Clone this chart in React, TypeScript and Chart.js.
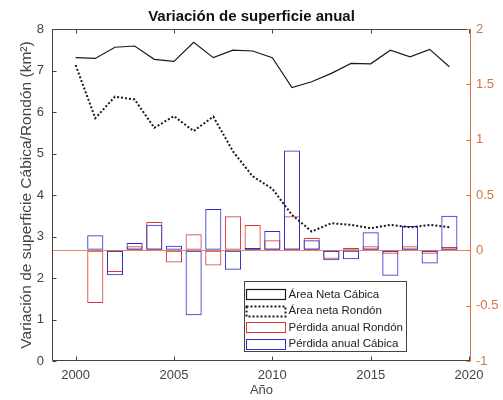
import React, { useEffect, useRef } from 'react';
import { Chart, registerables } from 'chart.js';

Chart.register(...registerables);

// ---- Data ----
const lineYears = [2000, 2001, 2002, 2003, 2004, 2005, 2006, 2007, 2008, 2009, 2010, 2011, 2012, 2013, 2014, 2015, 2016, 2017, 2018, 2019];
const areaNetaCabica = [7.31, 7.29, 7.56, 7.59, 7.27, 7.22, 7.68, 7.31, 7.49, 7.47, 7.31, 6.59, 6.73, 6.93, 7.17, 7.16, 7.49, 7.33, 7.51, 7.09];
const areaNetaRondon = [7.13, 5.85, 6.37, 6.30, 5.62, 5.90, 5.54, 5.89, 5.05, 4.45, 4.15, 3.52, 3.12, 3.32, 3.28, 3.20, 3.28, 3.22, 3.28, 3.22];

const barYears = [2001, 2002, 2003, 2004, 2005, 2006, 2007, 2008, 2009, 2010, 2011, 2012, 2013, 2014, 2015, 2016, 2017, 2018, 2019];
const perdidaRondon = [-0.476, -0.196, 0.036, 0.256, -0.111, 0.145, -0.136, 0.307, 0.229, 0.09, 0.307, 0.111, -0.075, 0.02, 0.036, -0.03, 0.036, -0.03, 0.03];
const perdidaCabica = [0.136, -0.226, 0.066, 0.232, 0.042, -0.587, 0.373, -0.175, 0.02, 0.175, 0.903, 0.09, -0.09, -0.081, 0.163, -0.229, 0.22, -0.12, 0.313];

const xTicks = [2000, 2005, 2010, 2015, 2020];
const yTicks = [0, 1, 2, 3, 4, 5, 6, 7, 8];
const y2Ticks = [-1, -0.5, 0, 0.5, 1, 1.5, 2];

const titleText = 'Variación de superficie anual';
const xTitle = 'Año';
const yTitle = 'Variación de superficie Cábica/Rondón (km²)';
const labels = ['Área Neta Cábica', 'Área neta Rondón', 'Pérdida anual Rondón', 'Pérdida anual Cábica'];

// ---- Styles ----
const FONT = "'Liberation Sans', Arial, Helvetica, sans-serif";
const GRAY = '#444444';
const ORANGE = '#D4743F';
const ZERO = '#DC8A5C';
const RED = '#D83A3A';
const BLUE = '#2E2EC8';
const BLACK = '#1a1a1a';

const framePlugin = {
  id: 'frameAndLegend',
  afterDraw(chart: any) {
    const { ctx, chartArea, scales } = chart;
    const { left, right, top, bottom } = chartArea;
    const L = Math.round(left) + 0.5;
    const R = Math.round(right) - 0.5;
    const T = Math.round(top) + 0.5;
    const B = Math.round(bottom) - 0.5;
    ctx.save();
    ctx.lineWidth = 1;
    ctx.setLineDash([]);
    ctx.strokeStyle = GRAY;
    ctx.beginPath();
    ctx.moveTo(R, T);
    ctx.lineTo(L, T);
    ctx.lineTo(L, B);
    ctx.lineTo(R, B);
    ctx.stroke();
    const tl = 4;
    ctx.beginPath();
    for (const t of scales.x.ticks) {
      const px = Math.round(scales.x.getPixelForValue(t.value)) + 0.5;
      ctx.moveTo(px, B);
      ctx.lineTo(px, B - tl);
      ctx.moveTo(px, T);
      ctx.lineTo(px, T + tl);
    }
    for (const t of scales.y.ticks) {
      const py = Math.round(scales.y.getPixelForValue(t.value)) + 0.5;
      ctx.moveTo(L, py);
      ctx.lineTo(L + tl, py);
    }
    ctx.stroke();
    ctx.strokeStyle = ORANGE;
    ctx.beginPath();
    ctx.moveTo(R, T - 0.5);
    ctx.lineTo(R, B + 0.5);
    for (const t of scales.y2.ticks) {
      const py = Math.round(scales.y2.getPixelForValue(t.value)) + 0.5;
      ctx.moveTo(R, py);
      ctx.lineTo(R - tl, py);
    }
    ctx.stroke();

    // legend
    const bx = 244.5, by = 281.5, bw = 162, bh = 70;
    ctx.fillStyle = '#ffffff';
    ctx.fillRect(bx, by, bw, bh);
    ctx.strokeStyle = '#444';
    ctx.lineWidth = 1;
    ctx.strokeRect(bx, by, bw, bh);
    const rowY = [294, 310.5, 327, 343.5];
    ctx.font = `11.5px ${FONT}`;
    ctx.textBaseline = 'middle';
    ctx.textAlign = 'left';
    chart.data.datasets.forEach((ds: any, i: number) => {
      const cy = rowY[i];
      ctx.save();
      ctx.strokeStyle = ds.borderColor;
      ctx.lineWidth = ds.type === 'line' ? ds.borderWidth : 1;
      ctx.setLineDash(ds.borderDash || []);
      ctx.strokeRect(246.5, Math.round(cy - 5) + 0.5, 39, 10);
      ctx.restore();
      ctx.fillStyle = '#222';
      ctx.fillText(ds.label, 288.5, cy + 0.5);
    });
    ctx.restore();
  },
};

export default function App() {
  const ref = useRef<HTMLCanvasElement | null>(null);

  useEffect(() => {
    if (!ref.current) return;
    const chart = new Chart(ref.current, {
      type: 'bar',
      data: {
        datasets: [
          {
            type: 'line',
            label: labels[0],
            data: lineYears.map((x, i) => ({ x, y: areaNetaCabica[i] })),
            yAxisID: 'y',
            borderColor: BLACK,
            borderWidth: 1.2,
            pointRadius: 0,
            tension: 0,
            fill: false,
            order: 0,
          } as any,
          {
            type: 'line',
            label: labels[1],
            data: lineYears.map((x, i) => ({ x, y: areaNetaRondon[i] })),
            yAxisID: 'y',
            borderColor: BLACK,
            borderWidth: 2,
            borderDash: [2, 2],
            pointRadius: 0,
            tension: 0,
            fill: false,
            order: 1,
          } as any,
          {
            type: 'bar',
            label: labels[2],
            data: barYears.map((x, i) => ({ x, y: perdidaRondon[i] })),
            yAxisID: 'y2',
            backgroundColor: 'rgba(0,0,0,0)',
            borderColor: RED,
            borderWidth: 1,
            borderSkipped: false,
            grouped: false,
            barPercentage: 0.82,
            categoryPercentage: 1,
            order: 3,
          } as any,
          {
            type: 'bar',
            label: labels[3],
            data: barYears.map((x, i) => ({ x, y: perdidaCabica[i] })),
            yAxisID: 'y2',
            backgroundColor: 'rgba(0,0,0,0)',
            borderColor: BLUE,
            borderWidth: 1,
            borderSkipped: false,
            grouped: false,
            barPercentage: 0.82,
            categoryPercentage: 1,
            order: 2,
          } as any,
        ],
      },
      options: {
        responsive: false,
        animation: false,
        devicePixelRatio: 1,
        events: [],
        layout: { padding: 0 },
        plugins: {
          legend: { display: false },
          tooltip: { enabled: false },
          title: {
            display: true,
            text: titleText,
            color: '#111',
            font: { family: FONT, size: 15, weight: 'bold' },
            padding: { top: 7.5, bottom: 3.5 },
          },
        },
        scales: {
          x: {
            type: 'linear',
            position: 'bottom',
            min: 1998.8,
            max: 2020.1,
            offset: false,
            afterBuildTicks: (s: any) => {
              s.ticks = xTicks.map((v) => ({ value: v }));
            },
            afterFit: (s: any) => {
              s.height = 39;
            },
            grid: { display: false, drawTicks: false },
            border: { display: false },
            ticks: {
              color: GRAY,
              font: { family: FONT, size: 13 },
              padding: 6.5,
              maxRotation: 0,
              callback: (v: any) => String(v),
            },
            title: {
              display: true,
              text: xTitle,
              color: GRAY,
              font: { family: FONT, size: 13 },
              padding: { top: 0, bottom: 2 },
            },
          },
          y: {
            type: 'linear',
            position: 'left',
            min: 0,
            max: 8,
            afterBuildTicks: (s: any) => {
              s.ticks = yTicks.map((v) => ({ value: v }));
            },
            afterFit: (s: any) => {
              s.width = 52;
            },
            grid: { display: false, drawTicks: false },
            border: { display: false },
            ticks: {
              color: GRAY,
              font: { family: FONT, size: 13 },
              padding: 8,
              callback: (v: any) => String(v),
            },
            title: {
              display: true,
              text: yTitle,
              color: GRAY,
              font: { family: FONT, size: 15.5 },
              padding: { top: 17.5, bottom: 0 },
            },
          },
          y2: {
            type: 'linear',
            position: 'right',
            min: -1,
            max: 2,
            afterBuildTicks: (s: any) => {
              s.ticks = y2Ticks.map((v) => ({ value: v }));
            },
            afterFit: (s: any) => {
              s.width = 32;
            },
            grid: {
              display: true,
              drawTicks: false,
              drawOnChartArea: true,
              lineWidth: 1,
              color: (c: any) => (c.tick && c.tick.value === 0 ? ZERO : 'rgba(0,0,0,0)'),
            },
            border: { display: false },
            ticks: {
              color: ORANGE,
              font: { family: FONT, size: 13 },
              padding: 5,
              callback: (v: any) => String(v),
            },
          },
        },
      },
      plugins: [framePlugin],
    } as any);
    return () => chart.destroy();
  }, []);

  return (
    <div style={{ position: 'fixed', left: 0, top: 0, width: 503, height: 400, background: '#fff' }}>
      <canvas ref={ref} width={503} height={400} style={{ display: 'block', width: 503, height: 400 }} />
    </div>
  );
}
